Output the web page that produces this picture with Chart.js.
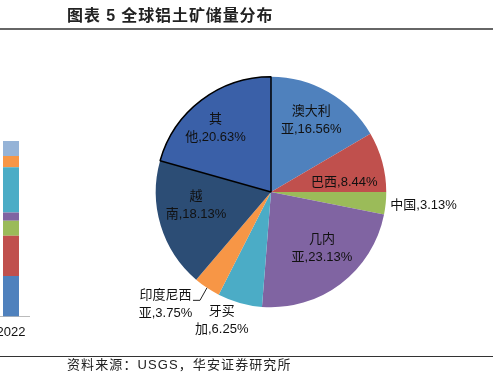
<!DOCTYPE html>
<html lang="zh-CN">
<head>
    <meta charset="UTF-8">
    <title>全球铝土矿储量分布</title>
    <script src="https://cdn.jsdelivr.net/npm/chart.js"></script>
    <style>
        html, body { margin: 0; padding: 0; background: #fff; }
        body { width: 499px; height: 386px; position: relative; overflow: hidden;
               font-family: "Liberation Sans", "Noto Sans CJK SC", sans-serif; }
        .title { position: absolute; left: 67px; top: 6px; font-size: 16px; line-height: 20px;
                 font-weight: bold; letter-spacing: 0.9px; color: #222;
                 font-family: "Liberation Sans", "Noto Sans CJK SC", sans-serif; }
        .rule-top { position: absolute; left: 0; top: 28px; width: 493px; height: 1.5px; background: #666; }
        .rule-bottom { position: absolute; left: 0; top: 356px; width: 493px; height: 1px; background: #333; }
        .source { position: absolute; left: 67px; top: 357px; font-size: 13px; line-height: 16px;
                  letter-spacing: 1.1px; color: #222; }
        #pieBox { position: absolute; left: 0; top: 0; width: 499px; height: 386px; }
        #barBox { position: absolute; left: -8px; top: 141px; width: 38px; height: 199px; }
    </style>
</head>
<body>
    <div id="barBox"><canvas id="barChart"></canvas></div>
    <div id="pieBox"><canvas id="pieChart"></canvas></div>
    <div class="title">图表 5 全球铝土矿储量分布</div>
    <div class="rule-top"></div>
    <div class="rule-bottom"></div>
    <div class="source">资料来源：USGS，华安证券研究所</div>

    <script>
        // 饼图数据
        const names = ['澳大利亚', '巴西', '中国', '几内亚', '牙买加', '印度尼西亚', '越南', '其他'];
        const shares = [16.56, 8.44, 3.13, 23.13, 6.25, 3.75, 18.13, 20.63];
        const pieColors = ['#4F81BD', '#C0504D', '#9BBB59', '#8064A2', '#4BACC6', '#F79646', '#2C4D75', '#3A60A8'];
        const wrapName = [true, false, false, true, true, true, true, true];

        // 左侧被截断的柱状图
        const barYears = ['2022'];
        const barColors = ['#4F81BD', '#C0504D', '#9BBB59', '#8064A2', '#4BACC6', '#F79646', '#95B3D7'];
        const barValues = [23.0, 23.0, 8.6, 4.6, 25.9, 6.3, 8.6];

        // 标签位置（沿扇区中线的半径比例 + 微调）
        const labelFrac = [0.72, 0.65, 1.04, 0.66, 1.16, 1.0, 0.68, 0.74];
        const labelNudge = [[-1, 0], [1, 10], [0, 2], [5, -4], [-13, 0], [0, 0], [0, -9], [-4, 4]];

        Chart.defaults.font.family = '"Liberation Sans", "Noto Sans CJK SC", sans-serif';
        Chart.defaults.color = '#111';

        const labelPlugin = {
            id: 'sliceLabels',
            afterDatasetsDraw(chart) {
                const ctx = chart.ctx;
                const meta = chart.getDatasetMeta(0);
                ctx.save();
                ctx.font = '13px "Liberation Sans", "Noto Sans CJK SC", sans-serif';
                ctx.fillStyle = '#111';
                ctx.textBaseline = 'middle';
                meta.data.forEach((arc, i) => {
                    const p = arc.getProps(['x', 'y', 'startAngle', 'endAngle', 'outerRadius'], true);
                    const mid = (p.startAngle + p.endAngle) / 2;
                    const d = p.outerRadius * labelFrac[i];
                    let x = p.x + Math.cos(mid) * d + labelNudge[i][0];
                    let y = p.y + Math.sin(mid) * d + labelNudge[i][1];
                    const val = shares[i].toFixed(2) + '%';
                    let lines;
                    if (wrapName[i]) {
                        const n = names[i];
                        lines = [n.slice(0, -1), n.slice(-1) + ',' + val];
                    } else {
                        lines = [names[i] + ',' + val];
                    }
                    if (i === 5) {
                        // 印度尼西亚 引导线
                        const x1 = x - 7, y1 = y + 12.5, x2 = x1 - 7;
                        ctx.strokeStyle = '#222';
                        ctx.lineWidth = 1;
                        ctx.beginPath();
                        ctx.moveTo(x, y);
                        ctx.lineTo(x1, y1);
                        ctx.lineTo(x2, y1);
                        ctx.stroke();
                        x = x2 - 27.5;
                        y = y1 + 4;
                    }
                    ctx.textAlign = i === 2 ? 'left' : 'center';
                    const lh = 18;
                    const y0 = y - (lines.length - 1) * lh / 2;
                    lines.forEach((t, k) => ctx.fillText(t, x, y0 + k * lh));
                });
                ctx.restore();
            }
        };

        new Chart(document.getElementById('pieChart'), {
            type: 'pie',
            data: {
                labels: names,
                datasets: [{
                    data: shares,
                    backgroundColor: pieColors,
                    borderColor: pieColors.map((c, i) => i === pieColors.length - 1 ? '#000' : c),
                    borderWidth: shares.map((v, i) => i === shares.length - 1 ? 1.5 : 0)
                }]
            },
            options: {
                responsive: true,
                maintainAspectRatio: false,
                animation: false,
                layout: { padding: { left: 155, right: 112, top: 76, bottom: 78 } },
                plugins: { legend: { display: false }, tooltip: { enabled: false } }
            },
            plugins: [labelPlugin]
        });

        new Chart(document.getElementById('barChart'), {
            type: 'bar',
            data: {
                labels: barYears,
                datasets: barValues.map((v, i) => ({
                    data: [v],
                    backgroundColor: barColors[i],
                    borderWidth: 0,
                    categoryPercentage: 0.8,
                    barPercentage: 0.526
                }))
            },
            options: {
                responsive: true,
                maintainAspectRatio: false,
                animation: false,
                layout: { padding: 0 },
                plugins: { legend: { display: false }, tooltip: { enabled: false } },
                scales: {
                    x: {
                        stacked: true,
                        grid: { display: false },
                        border: { display: true, color: '#bbb', width: 1 },
                        ticks: { font: { size: 13 }, color: '#111', padding: 0, maxRotation: 0 }
                    },
                    y: { stacked: true, display: false, min: 0, max: 100 }
                }
            }
        });
    </script>
</body>
</html>
